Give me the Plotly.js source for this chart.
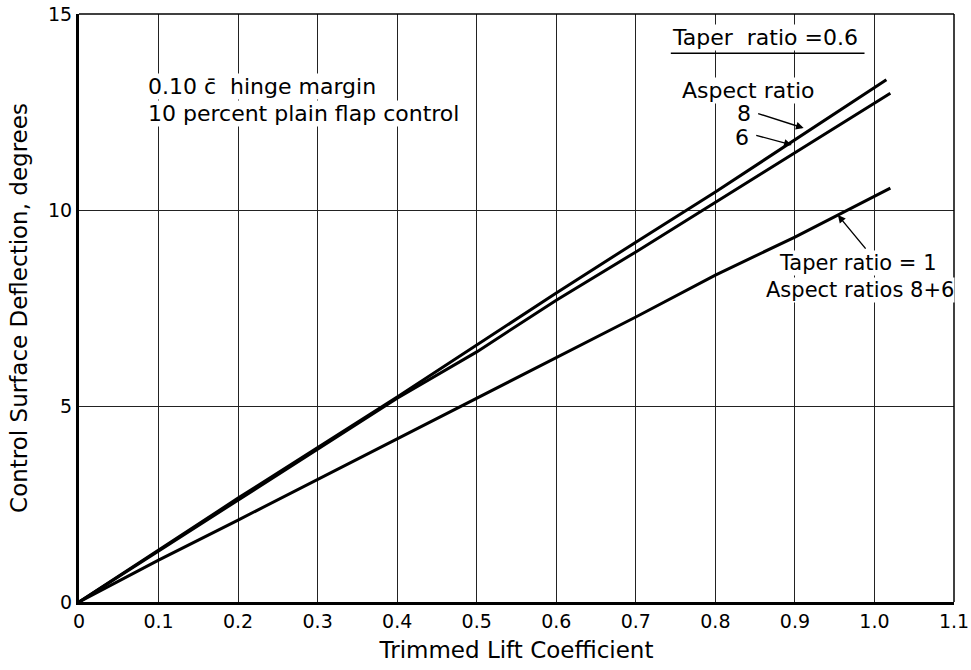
<!DOCTYPE html>
<html>
<head>
<meta charset="utf-8">
<script src="https://cdn.plot.ly/plotly-3.0.1.min.js"></script>
<style>html,body{margin:0;padding:0;background:#fff;}#chart{width:971px;height:670px;}</style>
</head>
<body>
<div id="chart"></div>
<script>
// Taper ratio 0.6, aspect ratio 8
const ar8X = [0, 0.1, 0.2, 0.4, 0.5, 0.6, 0.7, 0.8, 1.015];
const ar8Y = [0, 1.33, 2.65, 5.23, 6.56, 7.88, 9.18, 10.46, 13.32];
// Taper ratio 0.6, aspect ratio 6
const ar6X = [0, 0.1, 0.2, 0.4, 0.5, 0.6, 0.7, 0.8, 1.02];
const ar6Y = [0, 1.3, 2.62, 5.2, 6.38, 7.7, 8.93, 10.2, 12.98];
// Taper ratio 1, aspect ratios 8 and 6
const t1X = [0, 0.1, 0.2, 0.5, 0.7, 0.8, 0.9, 1.02];
const t1Y = [0, 1.07, 2.09, 5.2, 7.27, 8.34, 9.31, 10.56];

const xTickVals = [0, 0.1, 0.2, 0.3, 0.4, 0.5, 0.6, 0.7, 0.8, 0.9, 1.0, 1.1];
const xTickText = ['0', '0.1', '0.2', '0.3', '0.4', '0.5', '0.6', '0.7', '0.8', '0.9', '1.0', '1.1'];
const yTickVals = [0, 5, 10, 15];
const yTickText = ['0', '5', '10', '15'];

const FONT = 'DejaVu Sans, Liberation Sans, sans-serif';
const lineStyle = {color: '#000', width: 3};

const traces = [
  {x: ar8X, y: ar8Y, mode: 'lines', line: lineStyle, name: 'AR 8', hoverinfo: 'skip'},
  {x: ar6X, y: ar6Y, mode: 'lines', line: lineStyle, name: 'AR 6', hoverinfo: 'skip'},
  {x: t1X, y: t1Y, mode: 'lines', line: lineStyle, name: 'Taper 1', hoverinfo: 'skip'}
];

const txt = (x, y, text, anchor, size) => ({x: x, y: y, xref: 'x', yref: 'y', xanchor: anchor || 'left', yanchor: 'middle',
  showarrow: false, text: text, bgcolor: '#fff', borderpad: 0,
  font: {size: size || 21, family: FONT, color: '#000'}});
const arrow = (x, y, ax, ay) => ({x: x, y: y, xref: 'x', yref: 'y', showarrow: true, arrowhead: 2, arrowsize: 1.1,
  arrowwidth: 1.4, arrowcolor: '#000', ax: ax, ay: ay, text: ''});

const layout = {
  width: 971, height: 670,
  margin: {l: 79, r: 17, t: 14, b: 68},
  paper_bgcolor: '#fff', plot_bgcolor: '#fff',
  showlegend: false,
  font: {family: FONT, color: '#000', size: 19},
  xaxis: {
    range: [0, 1.1], tickvals: xTickVals, ticktext: xTickText,
    showgrid: true, gridcolor: '#222', gridwidth: 1,
    zeroline: false, showline: true, linecolor: '#000', linewidth: 3,
    ticks: '', ticklen: 0, tickfont: {size: 19, family: FONT},
    ticklabeloverflow: 'allow',
    title: {text: 'Trimmed Lift Coefficient', font: {size: 23, family: FONT}, standoff: 12}
  },
  yaxis: {
    range: [0, 15], tickvals: yTickVals, ticktext: yTickText,
    showgrid: true, gridcolor: '#222', gridwidth: 1,
    zeroline: false, showline: true, linecolor: '#000', linewidth: 3,
    ticks: '', ticklen: 0, tickfont: {size: 19, family: FONT},
    title: {text: 'Control Surface Deflection, degrees', font: {size: 23, family: FONT}, standoff: 14}
  },
  shapes: [
    {type: 'line', xref: 'paper', yref: 'paper', x0: 0, x1: 1, y0: 1, y1: 1, line: {color: '#000', width: 1.5}},
    {type: 'line', xref: 'paper', yref: 'paper', x0: 1, x1: 1, y0: 0, y1: 1, line: {color: '#000', width: 1.5}},
    // underline for "Taper ratio = 0.6"
    {type: 'line', xref: 'x', yref: 'y', x0: 0.744, x1: 0.9875, y0: 14.0, y1: 14.0, line: {color: '#000', width: 1.5}}
  ],
  annotations: [
    txt(0.085, 13.16, '0.10 c̄  hinge margin', 'left', 22),
    txt(0.085, 12.45, '10 percent plain flap control', 'left', 22),
    txt(0.744, 14.41, 'Taper  ratio =0.6', 'left', 22),
    txt(0.757, 13.06, 'Aspect ratio', 'left', 22),
    txt(0.846, 12.47, '8', 'right', 22),
    txt(0.844, 11.86, '6', 'right', 22),
    arrow(0.911, 12.09, -47, -15),
    arrow(0.896, 11.66, -37, -10),
    arrow(0.954, 9.87, 29, 35),
    txt(0.879, 8.65, 'Taper ratio = 1'),
    txt(0.863, 7.96, 'Aspect ratios 8+6')
  ]
};

Plotly.newPlot('chart', traces, layout, {displayModeBar: false, staticPlot: true});
</script>
</body>
</html>
